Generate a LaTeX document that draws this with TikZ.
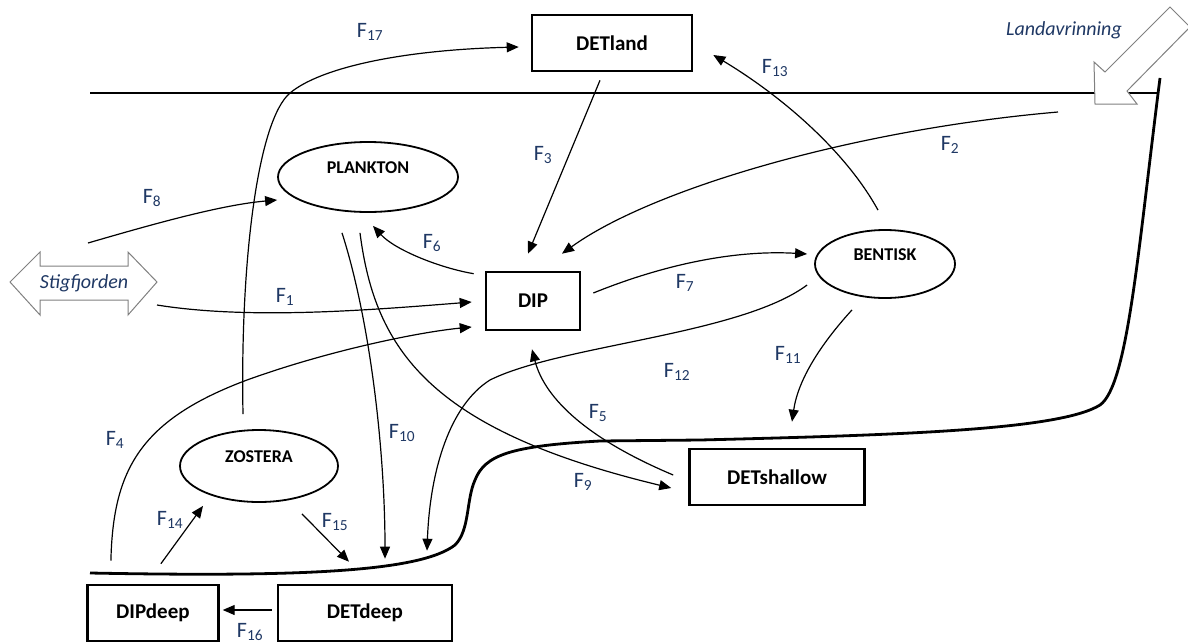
\documentclass[tikz,border=0pt]{standalone}
\usepackage{fontspec}
\setmainfont{Carlito}
\usepackage{tikz}
\usetikzlibrary{positioning}
\usetikzlibrary{shapes.geometric}
\usetikzlibrary{arrows.meta}
\definecolor{labelblue}{RGB}{31,56,100}
\definecolor{arrowgrey}{RGB}{128,128,128}
\newcommand{\Fsub}[1]{F\textsubscript{#1}}
\tikzset{
    box model/.style={
            x=1pt,y=-1pt,
            pool/.style={draw, line width=2.6pt, minimum height=56pt, inner sep=0pt,
                    font=\fontsize{21}{25}\selectfont\bfseries},
            stock/.style={draw, ellipse, line width=1.8pt, inner sep=0pt, text depth=19pt,
                    font=\fontsize{18}{22}\selectfont\bfseries},
            flow/.style={-{Triangle[length=12pt,width=10pt]}, line width=1.2pt},
            fluxlabel/.style={text=labelblue, inner sep=0pt, font=\fontsize{22}{26}\selectfont},
            placename/.style={text=labelblue, inner sep=0pt, font=\fontsize{20}{24}\selectfont\itshape},
            border/.style={line width=2.8pt},
            blockarrow/.style={draw=arrowgrey, fill=white, line width=1pt, line join=miter}
        }
    }

\begin{document}
\begin{tikzpicture}[box model]
    \useasboundingbox (0,0) rectangle (1188,643);

    % surface and shore
    \draw [border] (90,93) -- (1158,93);
    \draw [border] (90,573) .. controls (300,577) and (420,572) .. (455,545)
        .. controls (470,530) and (466,500) .. (475,480)
        .. controls (485,455) and (510,446) .. (600,441)
        -- (700,440)
        .. controls (900,435) and (1060,430) .. (1100,405)
        .. controls (1128,385) and (1138,250) .. (1160,78);

    % inflows
    \draw [blockarrow] (1095,104) -- (1094,62) -- (1105,72) -- (1170,7) -- (1190,27)
        -- (1127,91) -- (1137,104) -- cycle;
    \node [placename] (runofftext) at (1064,30) {Landavrinning};
    \draw [blockarrow] (10,282) -- (40,252) -- (40,266) -- (128,266) -- (128,252) -- (157,282)
        -- (128,315) -- (128,300) -- (40,300) -- (40,315) -- cycle;
    \node [placename] (fjord) at (84,283) {Stigfjorden};

    \coordinate (runoff) at (1058,112);
    \coordinate (fjordup) at (88,243);
    \coordinate (fjordin) at (157,305);

    % pools
    \node [pool, minimum width=160pt] (detland) at (612,43) {DETland};
    \node [pool, minimum width=94pt, minimum height=58pt] (dip) at (533,301) {DIP};
    \node [pool, minimum width=175pt] (detshallow) at (777,477) {DETshallow};
    \node [pool, minimum width=174pt] (detdeep) at (365,613) {DETdeep};
    \node [pool, minimum width=131pt, left=57pt of detdeep] (dipdeep) {DIPdeep};

    \node [stock, minimum width=180pt, minimum height=70pt] (plankton) at (368,177) {PLANKTON};
    \node [stock, minimum width=140pt, minimum height=68pt] (bentisk) at (885,264) {BENTISK};
    \node [stock, minimum width=158pt, minimum height=72pt] (zostera) at (259,466) {ZOSTERA};

    % fluxes
    \draw [flow] (fjordin) .. controls (250,320) and (370,310) .. ([shift={(-13,1)}]dip.west)
        node [fluxlabel] (l1) at (285,297) {\Fsub{1}};
    \draw [flow] (runoff) .. controls (850,130) and (650,190) .. ([shift={(29,-17)}]dip.north)
        node [fluxlabel] (l2) at (950,145) {\Fsub{2}};
    \draw [flow] ([shift={(-12,8)}]detland.south) -- ([shift={(-5,-17)}]dip.north)
        node [fluxlabel] (l3) at (543,155) {\Fsub{3}};
    \draw [flow] ([shift={(-42,-23)}]dipdeep.north) .. controls (113,470) and (140,420) .. (247,380)
        .. controls (330,350) and (420,332) .. ([shift={(-13,26)}]dip.west)
        node [fluxlabel] (l4) at (115,440) {\Fsub{4}};
    \draw [flow] ([shift={(-15,-2)}]detshallow.west) .. controls (590,440) and (545,400) .. ([shift={(-1,18)}]dip.south)
        node [fluxlabel] (l5) at (598,413) {\Fsub{5}};
    \draw [flow] ([shift={(-11,3)}]dip.north west) .. controls (440,268) and (395,250) .. ([shift={(5,13)}]plankton.south)
        node [fluxlabel] (l6) at (432,243) {\Fsub{6}};
    \draw [flow] ([shift={(12,-8)}]dip.east) .. controls (670,262) and (740,250) .. ([shift={(-7,-10)}]bentisk.west)
        node [fluxlabel] (l7) at (685,283) {\Fsub{7}};
    \draw [flow] (fjordup) .. controls (150,225) and (220,205) .. ([shift={(0,23)}]plankton.west)
        node [fluxlabel] (l8) at (152,198) {\Fsub{8}};
    \draw [flow] ([shift={(-8,20)}]plankton.south) .. controls (375,350) and (430,430) .. ([shift={(-17,11)}]detshallow.west)
        node [fluxlabel] (l9) at (583,482) {\Fsub{9}};
    \draw [flow] ([shift={(-26,20)}]plankton.south) .. controls (370,320) and (385,450) .. ([shift={(20,-25)}]detdeep.north)
        node [fluxlabel] (l10) at (402,433) {\Fsub{10}};
    \draw [flow] ([shift={(-33,11)}]bentisk.south) .. controls (820,345) and (798,380) .. ([shift={(15,-26)}]detshallow.north)
        node [fluxlabel] (l11) at (788,355) {\Fsub{11}};
    \draw [flow] ([shift={(-7,21)}]bentisk.west) .. controls (740,335) and (560,345) .. (490,380)
        .. controls (450,405) and (430,470) .. ([shift={(62,-33)}]detdeep.north)
        node [fluxlabel] (l12) at (677,372) {\Fsub{12}};
    \draw [flow] ([shift={(-7,-19)}]bentisk.north) .. controls (845,150) and (780,95) .. ([shift={(20,12)}]detland.east)
        node [fluxlabel] (l13) at (775,68) {\Fsub{13}};
    \draw [flow] ([shift={(8,-20)}]dipdeep.north) -- ([shift={(-56,3)}]zostera.south)
        node [fluxlabel] (l14) at (170,520) {\Fsub{14}};
    \draw [flow] ([shift={(43,11)}]zostera.south) -- ([shift={(-16,-22)}]detdeep.north)
        node [fluxlabel] (l15) at (335,522) {\Fsub{15}};
    \draw [flow] ([shift={(-5,-3)}]detdeep.west) -- ([shift={(3,-3)}]dipdeep.east)
        node [fluxlabel] (l16) at (250,632) {\Fsub{16}};
    \draw [flow] ([shift={(-16,-15)}]zostera.north) .. controls (240,260) and (258,120) .. (290,93)
        .. controls (320,68) and (400,50) .. ([shift={(-12,4)}]detland.west)
        node [fluxlabel] (l17) at (370,32) {\Fsub{17}};
\end{tikzpicture}
\end{document}
